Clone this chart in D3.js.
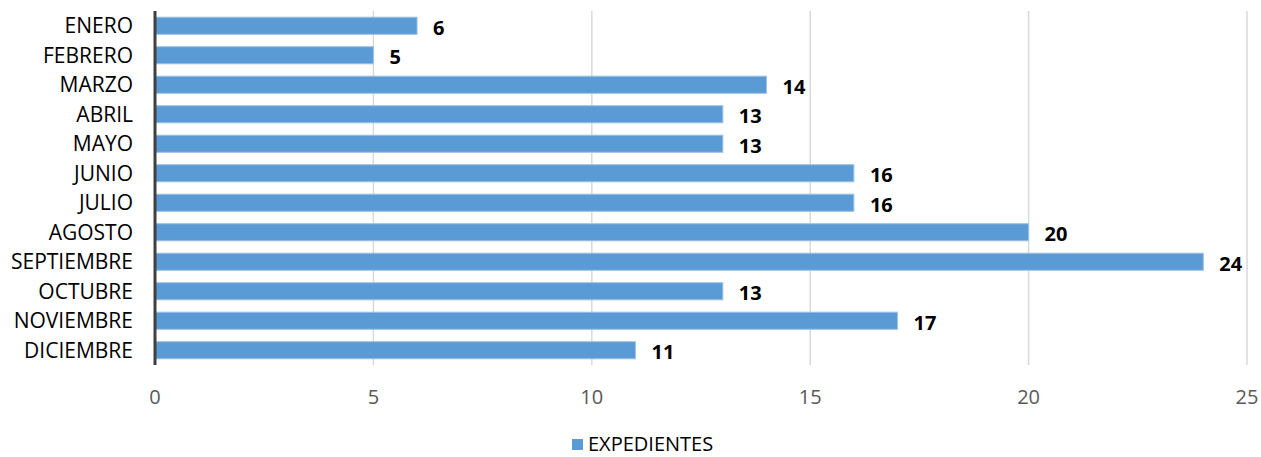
<!DOCTYPE html>
<html><head><meta charset="utf-8">
<script src="https://cdn.jsdelivr.net/npm/d3@7"></script>
<style>body{margin:0;background:#fff}svg text{font-family:"Open Sans","Noto Sans",sans-serif}</style>
</head><body><svg id="c" width="1261" height="457"></svg>
<script>
const months = ["ENERO","FEBRERO","MARZO","ABRIL","MAYO","JUNIO","JULIO","AGOSTO","SEPTIEMBRE","OCTUBRE","NOVIEMBRE","DICIEMBRE"];
const expedientes = [6,5,14,13,13,16,16,20,24,13,17,11];
const xTicks = [0,5,10,15,20,25];
const seriesName = "EXPEDIENTES";

const svg = d3.select("#c");
const x = d3.scaleLinear().domain([0,25]).range([155,1247]);
const y = d3.scaleBand().domain(months).range([11,365]).paddingInner(0.42).paddingOuter(0.21);

svg.append("g").selectAll("line").data(xTicks.slice(1)).join("line")
  .attr("x1",d=>x(d)).attr("x2",d=>x(d)).attr("y1",11).attr("y2",365)
  .attr("stroke","#d9d9d9").attr("stroke-width",1.5);

svg.append("g").selectAll("rect").data(months).join("rect")
  .attr("x",x(0)).attr("y",d=>y(d)).attr("height",y.bandwidth())
  .attr("width",(d,i)=>x(expedientes[i])-x(0))
  .attr("fill","#5b9bd5").attr("stroke","#9dc3e6").attr("stroke-width",1);

svg.append("line").attr("x1",x(0)).attr("x2",x(0)).attr("y1",11).attr("y2",365)
  .attr("stroke","#404040").attr("stroke-width",3);

svg.append("g").selectAll("text").data(months).join("text")
  .attr("x",133).attr("y",d=>y(d)+y.bandwidth()/2).attr("dy","0.35em")
  .attr("text-anchor","end").attr("font-size",21).attr("fill","#000").text(d=>d);

svg.append("g").selectAll("text").data(months).join("text")
  .attr("x",(d,i)=>x(expedientes[i])+16).attr("y",d=>y(d)+y.bandwidth()/2+2).attr("dy","0.35em")
  .attr("font-size",20).attr("font-weight","bold").attr("fill","#000").text((d,i)=>expedientes[i]);

svg.append("g").selectAll("text").data(xTicks).join("text")
  .attr("x",d=>x(d)).attr("y",397).attr("dy","0.35em").attr("text-anchor","middle")
  .attr("font-size",20).attr("fill","#595959").text(d=>d);

const lg = svg.append("g");
lg.append("rect").attr("x",572).attr("y",439).attr("width",11).attr("height",11).attr("fill","#5b9bd5");
lg.append("text").attr("x",588).attr("y",444).attr("dy","0.35em").attr("font-size",20).attr("fill","#000").text(seriesName);
</script></body></html>
